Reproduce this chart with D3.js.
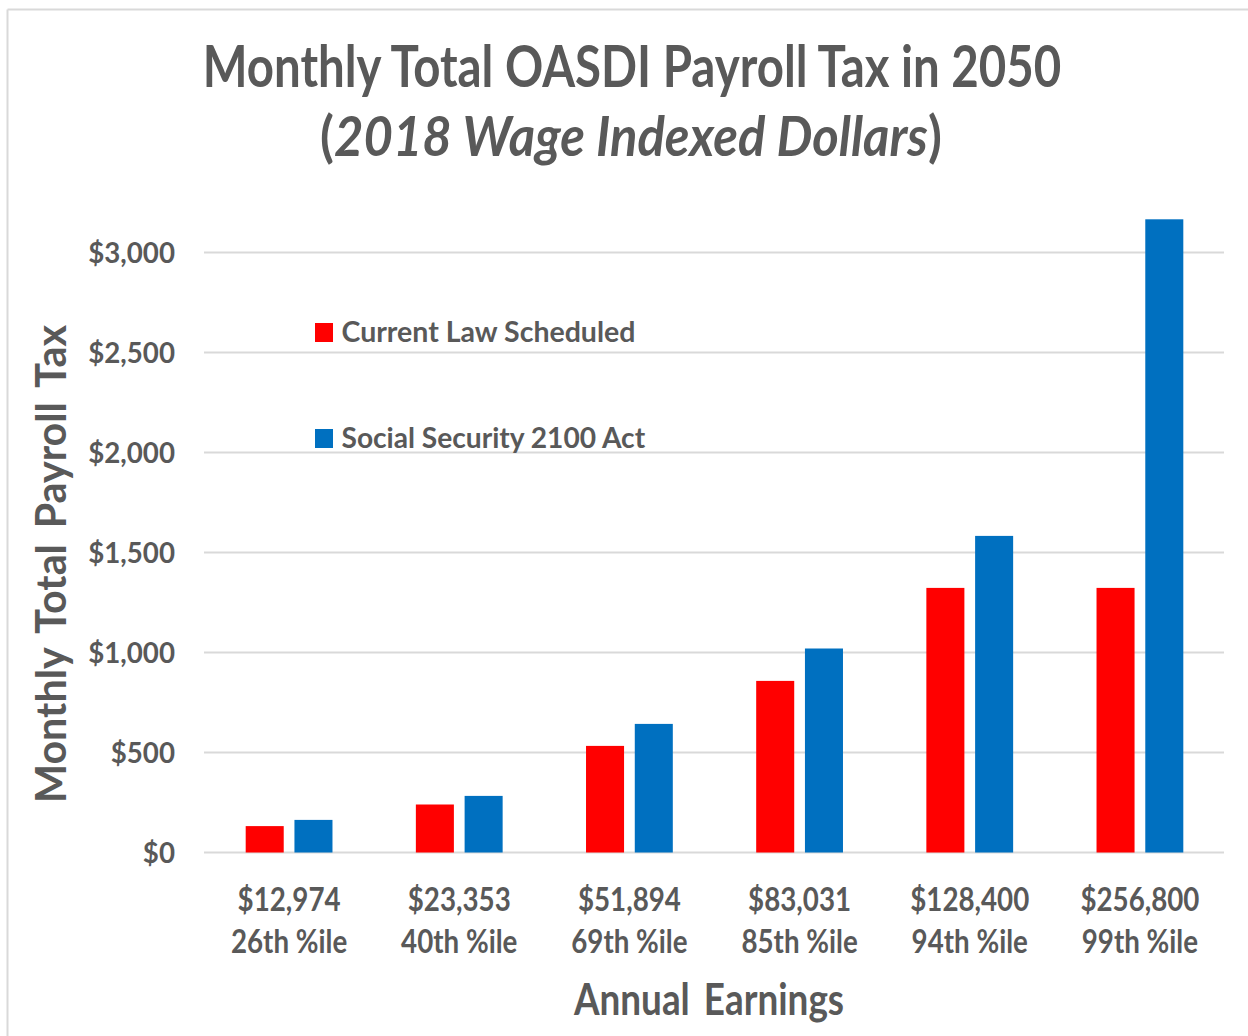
<!DOCTYPE html>
<html>
<head>
<meta charset="utf-8">
<script src="https://cdn.jsdelivr.net/npm/d3@7"></script>
<style>
  html, body { margin: 0; padding: 0; background: #fff; }
  svg { display: block; font-family: Lato, "Open Sans", sans-serif; }
</style>
</head>
<body>
<svg id="chart" width="1248" height="1036"></svg>
<script>
// ---- data ----
const earnings = ["$12,974", "$23,353", "$51,894", "$83,031", "$128,400", "$256,800"];
const percentiles = ["26th %ile", "40th %ile", "69th %ile", "85th %ile", "94th %ile", "99th %ile"];
const seriesNames = ["Current Law Scheduled", "Social Security 2100 Act"];
const currentLaw = [132, 240, 533, 858, 1323, 1323];
const ss2100 = [163, 283, 643, 1020, 1583, 3166];
const yTicks = [0, 500, 1000, 1500, 2000, 2500, 3000];
const colors = ["#ff0000", "#0070c0"];
const titleLine1 = "Monthly Total OASDI Payroll Tax in 2050";
const titleLine2 = "2018 Wage Indexed Dollars";
const yTitle = "Monthly Total Payroll Tax";
const xTitle = "Annual Earnings";

const textColor = "#595959";
const gridColor = "#d9d9d9";

const svg = d3.select("#chart");
svg.append("rect").attr("width", 1248).attr("height", 1036).attr("fill", "#fff");

// border (top and left)
svg.append("line").attr("x1", 7.5).attr("x2", 1248).attr("y1", 9.5).attr("y2", 9.5)
  .attr("stroke", gridColor).attr("stroke-width", 2);
svg.append("line").attr("x1", 7.5).attr("x2", 7.5).attr("y1", 9.5).attr("y2", 1036)
  .attr("stroke", gridColor).attr("stroke-width", 2);

// helper to horizontally scale text to a target width around its anchor point
function fitWidth(node, target, ax, ay) {
  const w = node.getBBox().width;
  const f = target / w;
  d3.select(node).attr("transform", `translate(${ax},${ay}) scale(${f},1) translate(${-ax},${-ay})`);
  return f;
}
function applyFactor(node, f, ax, ay) {
  d3.select(node).attr("transform", `translate(${ax},${ay}) scale(${f},1) translate(${-ax},${-ay})`);
}

// ---- scales ----
const plotLeft = 204, plotRight = 1225;
const x0 = d3.scaleBand().domain(earnings).range([plotLeft, plotRight])
  .paddingInner(0.49).paddingOuter(0.245);
const x1 = d3.scaleBand().domain(seriesNames).range([0, x0.bandwidth()]).paddingInner(0.22);
const y = d3.scaleLinear().domain([0, 3000]).range([852.5, 252.5]);

// gridlines
svg.append("g").selectAll("line").data(yTicks).join("line")
  .attr("x1", plotLeft).attr("x2", plotRight - 1)
  .attr("y1", d => y(d)).attr("y2", d => y(d))
  .attr("stroke", gridColor).attr("stroke-width", 2);

// bars
const seriesData = [currentLaw, ss2100];
const groups = svg.append("g").selectAll("g").data(earnings).join("g")
  .attr("transform", d => `translate(${x0(d)},0)`);
groups.selectAll("rect").data((d, i) => seriesNames.map((s, k) => ({ s, v: seriesData[k][i], k })))
  .join("rect")
  .attr("x", d => x1(d.s))
  .attr("width", x1.bandwidth())
  .attr("y", d => y(d.v))
  .attr("height", d => y(0) - y(d.v))
  .attr("fill", d => colors[d.k]);

// y axis
const yAxis = svg.append("g").attr("transform", `translate(${plotLeft},0)`)
  .call(d3.axisLeft(y).tickValues(yTicks).tickFormat(d3.format("$,")).tickSize(0).tickPadding(29));
yAxis.select(".domain").remove();
yAxis.selectAll("text")
  .attr("fill", textColor).attr("font-size", 29).attr("font-weight", 700)
  .attr("font-family", "Lato, 'Open Sans', sans-serif").attr("dy", "0.36em");
{
  let f = 1;
  yAxis.selectAll("text").each(function (d) { if (d === 3000) f = 87 / this.getBBox().width; });
  yAxis.selectAll("text").each(function () { applyFactor(this, f, -29, 0); });
}

// x axis labels (two lines)
const xAxis = svg.append("g");
const xl = xAxis.selectAll("g").data(earnings).join("g")
  .attr("transform", d => `translate(${x0(d) + x0.bandwidth() / 2},0)`);
const l1 = xl.append("text").attr("text-anchor", "middle").attr("y", 911)
  .attr("fill", textColor).attr("font-size", 32).attr("font-weight", 700)
  .text(d => d);
const l2 = xl.append("text").attr("text-anchor", "middle").attr("y", 953)
  .attr("fill", textColor).attr("font-size", 32).attr("font-weight", 700)
  .text((d, i) => percentiles[i]);
{
  const f = 103 / l1.nodes()[0].getBBox().width;
  l1.each(function () { applyFactor(this, f, 0, 911); });
  l2.each(function () { applyFactor(this, f, 0, 953); });
}

// title
const t1 = svg.append("text").attr("x", 632).attr("y", 87).attr("text-anchor", "middle")
  .attr("fill", textColor).attr("font-size", 57).attr("font-weight", 700).text(titleLine1);
fitWidth(t1.node(), 859, 632, 87);
const t2 = svg.append("text").attr("x", 631).attr("y", 156).attr("text-anchor", "middle")
  .attr("fill", textColor).attr("font-size", 55).attr("font-weight", 700);
t2.append("tspan").text("(");
t2.append("tspan").attr("font-style", "italic").text(titleLine2);
t2.append("tspan").text(")");
fitWidth(t2.node(), 622, 631, 156);

// axis titles
const yt = svg.append("text").attr("text-anchor", "middle")
  .attr("transform", "translate(66,564) rotate(-90)")
  .attr("fill", textColor).attr("font-size", 42).attr("font-weight", 700)
  .attr("word-spacing", 6).text(yTitle);
{
  const w = yt.node().getBBox().width;
  yt.attr("transform", `translate(66,564) rotate(-90) scale(${478 / w},1)`);
}
const xt = svg.append("text").attr("x", 709).attr("y", 1015).attr("text-anchor", "middle")
  .attr("fill", textColor).attr("font-size", 43).attr("font-weight", 700)
  .attr("word-spacing", 6).text(xTitle);
fitWidth(xt.node(), 271, 709, 1015);

// legend
const legendY = [323, 429];
const legendBase = [342, 448];
const legendW = [294, 304];
const lg = svg.append("g");
seriesNames.forEach((s, i) => {
  lg.append("rect").attr("x", 315).attr("y", legendY[i]).attr("width", 18).attr("height", 19)
    .attr("fill", colors[i]);
  const t = lg.append("text").attr("x", 341.5).attr("y", legendBase[i])
    .attr("fill", textColor).attr("font-size", 29).attr("font-weight", 700).text(s);
  fitWidth(t.node(), legendW[i], 341.5, legendBase[i]);
});
</script>
</body>
</html>
